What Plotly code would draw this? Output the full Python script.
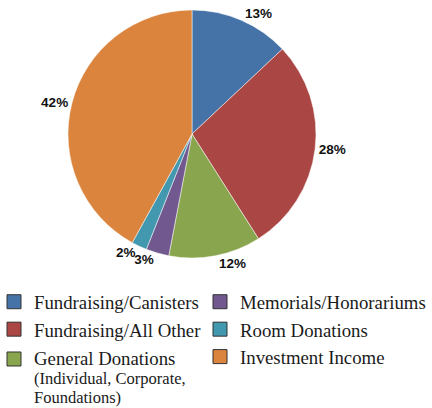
import plotly.graph_objects as go

labels = ["Fundraising/Canisters", "Fundraising/All Other", "General Donations",
          "Memorials/Honorariums", "Room Donations", "Investment Income"]
values = [13, 28, 12, 3, 2, 42]
colors = ["#4572A7", "#AA4643", "#89A54E", "#71588F", "#4198AF", "#DB843D"]
legend_text = ["Fundraising/Canisters", "Fundraising/All Other",
               "<span style='font-size:18.8px'>General Donations</span>"
               "<br><span style='font-size:16.5px'>(Individual, Corporate,</span>"
               "<br><span style='font-size:16.5px'>Foundations)</span>",
               "Memorials/Honorariums", "Room Donations", "Investment Income"]
legend_col = ["legend", "legend", "legend3", "legend2", "legend2", "legend2"]
# which slices get their percent label in the main trace vs. the overlay trace
overlay_label = [False, False, False, True, False, False]

W, H = 432, 408
dom = dict(x=[(192 - 124) / W, (192 + 124) / W], y=[1 - 258 / H, 1 - 10 / H])
pct_font = dict(family="Liberation Sans", size=13.5, color="#111111", weight="bold")

fig = go.Figure()
fig.add_trace(go.Pie(
    labels=labels, values=values, sort=False, direction="clockwise", rotation=0,
    marker=dict(colors=colors, line=dict(color="white", width=0.5)),
    textinfo="percent",
    textposition=["none" if o else "outside" for o in overlay_label],
    textfont=pct_font, showlegend=False, hoverinfo="label+percent", domain=dom,
))
fig.add_trace(go.Pie(
    labels=labels, values=values, sort=False, direction="clockwise", rotation=0,
    marker=dict(colors=["rgba(0,0,0,0)"] * len(values), line=dict(width=0)),
    textinfo="percent",
    textposition=["outside" if o else "none" for o in overlay_label],
    textfont=pct_font, showlegend=False, hoverinfo="skip", domain=dom,
))
for lab, txt, col, lg in zip(labels, legend_text, colors, legend_col):
    fig.add_trace(go.Scatter(
        x=[None], y=[None], mode="markers", name=txt, legend=lg,
        marker=dict(symbol="square", size=14, color=col, line=dict(color="#333333", width=1)),
    ))

serif = "Liberation Serif, Times New Roman, serif"
def lstyle(size):
    return dict(font=dict(family=serif, size=size, color="#1a1a1a"),
                bgcolor="rgba(0,0,0,0)", valign="top", tracegroupgap=0,
                xanchor="left", yanchor="top", orientation="v")
fig.update_layout(
    width=W, height=H, margin=dict(l=0, r=0, t=0, b=0, autoexpand=False),
    paper_bgcolor="white", plot_bgcolor="white",
    xaxis=dict(visible=False), yaxis=dict(visible=False),
    legend=dict(x=-6 / W, y=1 - 283 / H, **lstyle(18.8)),
    legend2=dict(x=200 / W, y=1 - 283 / H, **lstyle(18.8)),
    legend3=dict(x=-6 / W, y=1 - 343 / H, **lstyle(14.6)),
)
fig.write_html("out.html", config={"displayModeBar": False},
               post_script="document.body.style.margin='0';")
